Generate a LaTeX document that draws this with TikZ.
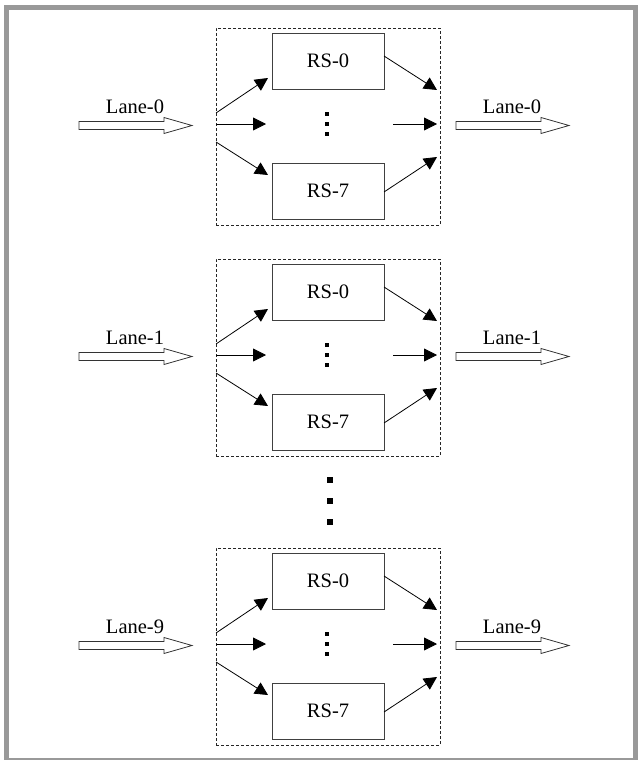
\documentclass[tikz,border=0pt]{standalone}
\usepackage{fontspec}
\setmainfont{Liberation Serif}
\usetikzlibrary{arrows.meta,calc}
\begin{document}
\begin{tikzpicture}[x=1pt,y=-1pt,
  rsbox/.style={draw=black!75,line width=0.9pt,minimum width=112pt,minimum height=56pt,inner sep=0pt,font=\fontsize{20.5}{24}\selectfont},
  grp/.style={draw=black!85,line width=0.8pt,dash pattern=on 3pt off 2pt,minimum width=224pt,minimum height=197pt,inner sep=0pt},
  arr/.style={line width=0.8pt,-{Triangle[length=13pt,width=13pt]}},
  fat/.style={draw=black!80,fill=white,line width=0.8pt},
  lbl/.style={font=\fontsize{20.5}{24}\selectfont,inner sep=0pt},
  sdot/.style={fill=black,inner sep=0pt,minimum size=3.5pt},
  bigdot/.style={fill=black,inner sep=0pt,minimum size=5.5pt}]
\useasboundingbox (0,0) rectangle (637,760);
\draw[line width=5pt,draw=black!40] (6.5,7.5) rectangle (635.5,760.5);

\foreach \c/\n/\lab in {124/a/0,355/b/1,644/c/9}{
  \node[grp] (g\n) at (328,\c+2.5) {};
  \node[rsbox] (r0\n) at (328,\c-63) {RS-0};
  \node[rsbox] (r7\n) at (328,\c+67) {RS-7};
  \node[sdot] (d1\n) at (327,\c-10) {};
  \node[sdot] (d2\n) at (327,\c) {};
  \node[sdot] (d3\n) at (327,\c+10) {};
  % input split arrows
  \coordinate (iu\n) at (216,\c-11);
  \coordinate (im\n) at (216,\c);
  \coordinate (il\n) at (216,\c+18);
  \coordinate (tu\n) at (268,\c-46);
  \coordinate (tm\n) at (266,\c);
  \coordinate (tl\n) at (268,\c+51);
  \draw[arr] (iu\n) -- (tu\n);
  \draw[arr] (im\n) -- (tm\n);
  \draw[arr] (il\n) -- (tl\n);
  % output merge arrows
  \coordinate (ou\n) at (384,\c-68);
  \coordinate (om\n) at (393,\c);
  \coordinate (ol\n) at (384,\c+68);
  \coordinate (eu\n) at (437,\c-34);
  \coordinate (em\n) at (437,\c);
  \coordinate (el\n) at (437,\c+33);
  \draw[arr] (ou\n) -- (eu\n);
  \draw[arr] (om\n) -- (em\n);
  \draw[arr] (ol\n) -- (el\n);
  % fat lane arrows
  \draw[fat] (79,\c-2.5) -- (164,\c-2.5) -- (164,\c-6.5) -- (192,\c+1.5) -- (164,\c+9.5) -- (164,\c+5.5) -- (79,\c+5.5) -- cycle;
  \node[lbl] (li\n) at (135,\c-17) {Lane-\lab};
  \draw[fat] (456,\c-2.5) -- (541,\c-2.5) -- (541,\c-6.5) -- (569,\c+1.5) -- (541,\c+9.5) -- (541,\c+5.5) -- (456,\c+5.5) -- cycle;
  \node[lbl] (lo\n) at (512,\c-17) {Lane-\lab};
}
\node[bigdot] (bd1) at (330,480) {};
\node[bigdot] (bd2) at (330,501) {};
\node[bigdot] (bd3) at (330,522) {};
\end{tikzpicture}
\end{document}
